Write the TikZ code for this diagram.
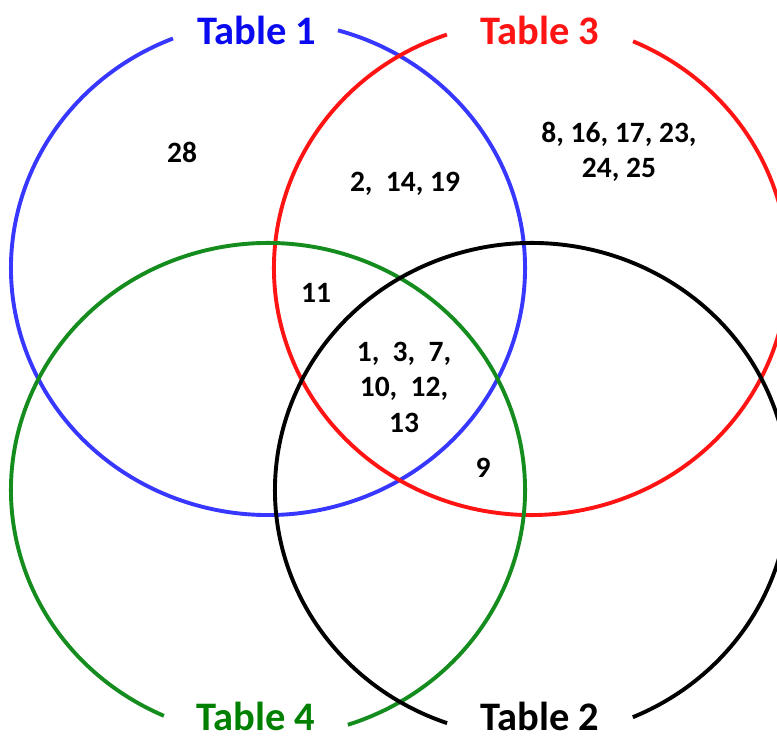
\documentclass[tikz,border=0pt]{standalone}
\usepackage{fontspec}
\usetikzlibrary{calc}
\setmainfont{Carlito}
\definecolor{cblue}{RGB}{55,55,255}
\definecolor{cred}{RGB}{255,20,20}
\definecolor{cgreen}{RGB}{20,140,30}
\definecolor{tblue}{RGB}{10,10,240}
\definecolor{tgreen}{RGB}{0,128,0}
\begin{document}
\begin{tikzpicture}[x=1pt,y=1pt,
  ring/.style={line width=3.9pt},
  lbl/.style={font=\fontsize{40.5}{48}\selectfont\bfseries, inner sep=0pt, anchor=base},
  num/.style={font=\fontsize{29.5}{35.5}\selectfont\bfseries, inner sep=0pt, align=center}]
\useasboundingbox (0,0) rectangle (777,737);
% ellipses with gaps for labels
\draw[ring, cblue]  ($(268,469)+(111.7:257pt and 247pt)$) arc[start angle=111.7, end angle=434.2, x radius=257, y radius=247];
\draw[ring, cred]   ($(531,469)+(109.1:257pt and 247pt)$) arc[start angle=109.1, end angle=426.6, x radius=257, y radius=247];
\draw[ring, cgreen] ($(268,247)+(288.1:257pt and 247pt)$) arc[start angle=288.1, end angle=606.1, x radius=257, y radius=247];
\draw[ring, black]  ($(532,247)+(293.1:257pt and 247pt)$) arc[start angle=293.1, end angle=610.7, x radius=257, y radius=247];
% labels
\node[lbl, text=tblue]  (t1) at (257,692) {Table 1};
\node[lbl, text=cred]   (t3) at (540,692) {Table 3};
\node[lbl, text=tgreen] (t4) at (256,7) {Table 4};
\node[lbl, text=black]  (t2) at (540,7) {Table 2};
% numbers
\node[num] (n28) at (182,585) {28};
\node[num] (n2) at (405,553) {2,\ \ 14, 19};
\node[num] (n8) at (619,585) {8, 16, 17, 23,\\24, 25};
\node[num] (n11) at (316,444) {11};
\node[num] (nc) at (404,350) {1,\ \ 3,\ \ 7,\\10,\ \ 12,\\13};
\node[num] (n9) at (483,269) {9};
\end{tikzpicture}
\end{document}
